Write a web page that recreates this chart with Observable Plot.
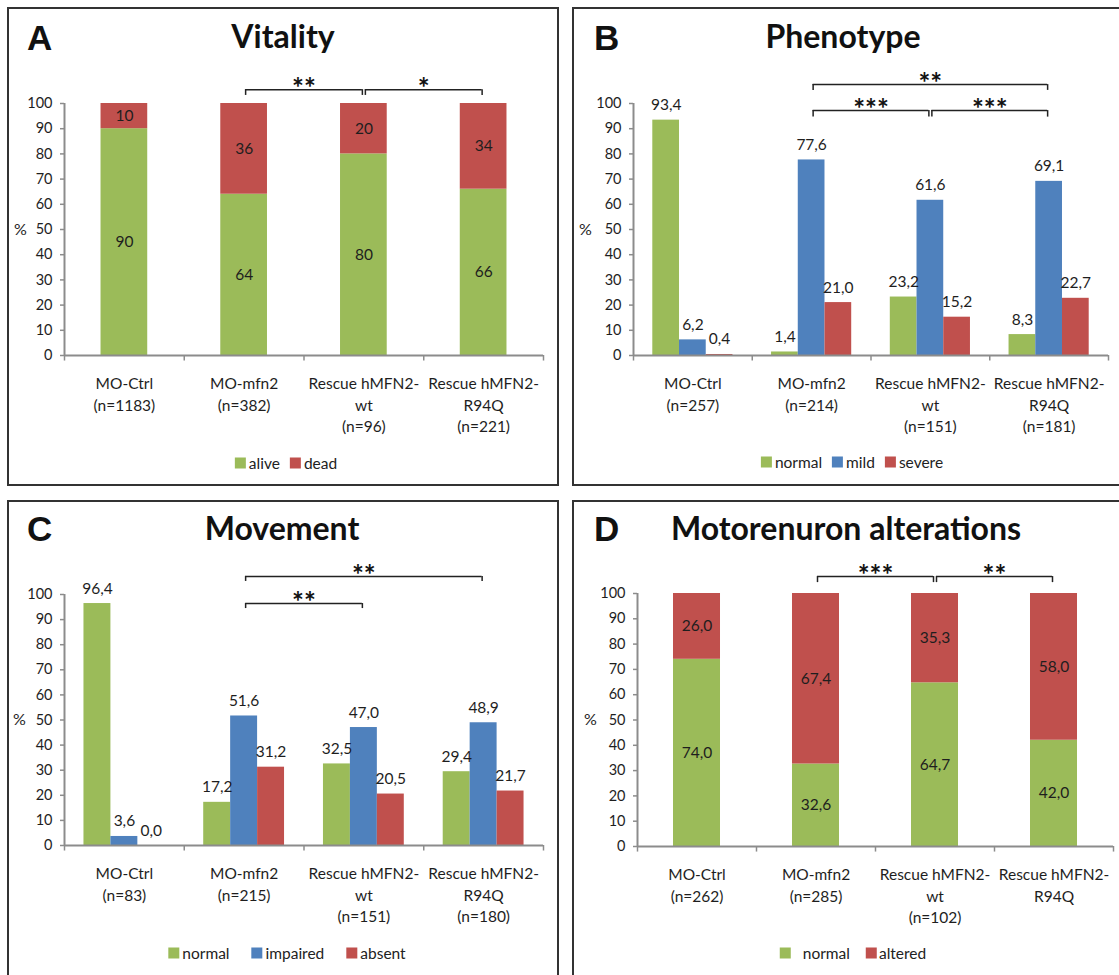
<!DOCTYPE html>
<html><head><meta charset="utf-8">
<script src="https://cdn.jsdelivr.net/npm/d3@7"></script>
<script src="https://cdn.jsdelivr.net/npm/@observablehq/plot@0.6"></script>
<style>
body{margin:0;background:#fff;}
#root{position:relative;width:1119px;height:975px;overflow:hidden;font-family:Lato,"Open Sans",sans-serif;color:#1e1e1e;background:#fff;}
.panel{position:absolute;border:2.5px solid #333;box-sizing:border-box;}
.letter{position:absolute;font-family:"Liberation Sans",Arial,sans-serif;font-weight:bold;font-size:35px;line-height:35px;color:#111;white-space:nowrap;}
.title{position:absolute;width:600px;text-align:center;font-weight:bold;font-size:32px;line-height:32px;color:#111;white-space:nowrap;}
.legend{position:absolute;display:flex;align-items:center;font-size:15.5px;line-height:15px;white-space:nowrap;transform:translate(-50%,-50%);color:#222;}
.sw{display:inline-block;width:11px;height:11px;}
.plot{position:absolute;}
</style></head>
<body><div id="root"></div>
<script>
// ---------- data ----------
const categoryLabels = ["MO-Ctrl", "MO-mfn2", "Rescue hMFN2-\nwt", "Rescue hMFN2-\nR94Q"];
const yTicks = [0, 10, 20, 30, 40, 50, 60, 70, 80, 90, 100];

const vitalityN = [1183, 382, 96, 221];
const vitalitySeries = ["alive", "dead"];
const vitalityAlive = [90, 64, 80, 66];
const vitalityDead = [10, 36, 20, 34];
const vitalityBrackets = [
  {from: 1, to: 2, label: "**", tier: 0},
  {from: 2, to: 3, label: "*", tier: 0}
];

const phenotypeN = [257, 214, 151, 181];
const phenotypeSeries = ["normal", "mild", "severe"];
const phenotypeNormal = [93.4, 1.4, 23.2, 8.3];
const phenotypeMild = [6.2, 77.6, 61.6, 69.1];
const phenotypeSevere = [0.4, 21.0, 15.2, 22.7];
const phenotypeBrackets = [
  {from: 1, to: 3, label: "**", tier: 1},
  {from: 1, to: 2, label: "***", tier: 0},
  {from: 2, to: 3, label: "***", tier: 0}
];

const movementN = [83, 215, 151, 180];
const movementSeries = ["normal", "impaired", "absent"];
const movementNormal = [96.4, 17.2, 32.5, 29.4];
const movementImpaired = [3.6, 51.6, 47.0, 48.9];
const movementAbsent = [0.0, 31.2, 20.5, 21.7];
const movementBrackets = [
  {from: 1, to: 3, label: "**", tier: 1},
  {from: 1, to: 2, label: "**", tier: 0}
];

const motoN = [262, 285, 102, null];
const motoSeries = ["normal", "altered"];
const motoNormal = [74.0, 32.6, 64.7, 42.0];
const motoAltered = [26.0, 67.4, 35.3, 58.0];
const motoBrackets = [
  {from: 1, to: 2, label: "***", tier: 0},
  {from: 2, to: 3, label: "**", tier: 0}
];

// ---------- style ----------
const GREEN = "#9BBB59", BLUE = "#4F81BD", RED = "#C0504D";
const AXIS = "#8c8c8c", INK = "#1e1e1e";
const root = document.getElementById("root");
const comma = v => v.toFixed(1).replace(".", ",");

function el(cls, css, html) {
  const d = document.createElement("div");
  d.className = cls; Object.assign(d.style, css); if (html != null) d.innerHTML = html;
  root.appendChild(d); return d;
}

function panel(cfg) {
  el("panel", {left: cfg.box[0] + "px", top: cfg.box[1] + "px", width: cfg.box[2] + "px", height: cfg.box[3] + "px"});
  el("letter", {left: cfg.letterX + "px", top: (cfg.letterBase - 29.6) + "px"}, cfg.letter);
  el("title", {left: (cfg.titleCx - 300) + "px", top: (cfg.titleBase - 28.4) + "px"}, cfg.title);
  const lg = el("legend", {left: cfg.legendCx + "px", top: cfg.legendCy + "px"});
  cfg.series.forEach((s, k) => {
    const item = document.createElement("span");
    item.style.display = "inline-flex"; item.style.alignItems = "center";
    if (k > 0) item.style.marginLeft = cfg.legendGap + "px";
    item.innerHTML = `<span class="sw" style="background:${cfg.colors[k]}"></span><span style="margin-left:${(cfg.swGap && cfg.swGap[k] != null) ? cfg.swGap[k] : 3}px">${s}</span>`;
    lg.appendChild(item);
  });
}

function axes(cfg, n) {
  const boundaries = d3.range(categoryLabels.length + 1).map(i => i - 0.5);
  const labels = categoryLabels.map((c, i) => n[i] != null ? `${c}\n(n=${n[i]})` : c);
  return [
    Plot.ruleX([-0.5], {y1: 0, y2: 100, stroke: AXIS, strokeWidth: 2}),
    Plot.ruleY([0], {stroke: AXIS, strokeWidth: 2}),
    Plot.ruleX(boundaries, {y1: 0, y2: -2.2, stroke: AXIS, strokeWidth: 1.5}),
    Plot.axisY({ticks: yTicks, tickSize: 4, tickPadding: 8, stroke: AXIS, strokeWidth: 1.5, fill: INK, fontSize: 14.5, tickFormat: d => String(d), label: null}),
    Plot.text(["%"], {x: -0.5, y: 50, dx: cfg.pctDx, fontSize: 16, fill: INK, textAnchor: "middle"}),
    Plot.text(labels, {x: (d, i) => i, y: 0, text: d => d, lineAnchor: "top", lineHeight: 1.4, dy: 18, fontSize: 15.5, fill: INK})
  ];
}

function bracketMarks(cfg, brackets) {
  const line = d => cfg.tiers[d.tier][0], tip = d => cfg.tiers[d.tier][1];
  return [
    Plot.ruleY(brackets, {y: line, x1: "from", x2: "to", insetLeft: 1.5, insetRight: 1.5, stroke: "#222", strokeWidth: 1.5}),
    Plot.ruleX(brackets, {x: "from", y1: tip, y2: line, dx: 1.5, stroke: "#222", strokeWidth: 1.5}),
    Plot.ruleX(brackets, {x: "to", y1: tip, y2: line, dx: -1.5, stroke: "#222", strokeWidth: 1.5}),
    Plot.text(brackets, {x: d => (d.from + d.to) / 2, y: line, text: "label", lineAnchor: "bottom", dy: 8.5, fontSize: 28, fontWeight: "bold", fill: "#111"})
  ];
}

function plotFrame(cfg, marks) {
  const [sx, sy, sw, sh] = cfg.svg;
  const chart = Plot.plot({
    width: sw, height: sh,
    marginLeft: cfg.axisX - sx, marginRight: sx + sw - cfg.axisEnd,
    marginTop: cfg.y100 - sy, marginBottom: sy + sh - cfg.y0,
    x: {domain: [-0.5, 3.5], axis: null},
    y: {domain: [0, 100], axis: null},
    color: {domain: cfg.series, range: cfg.colors},
    style: {fontFamily: "Lato, 'Open Sans', sans-serif", fontSize: "15px", color: INK, background: "transparent", overflow: "visible"},
    marks
  });
  chart.classList.add("plot");
  chart.style.left = sx + "px"; chart.style.top = sy + "px";
  root.appendChild(chart);
}

function stacked(cfg, n, seriesValues, brackets, fmt) {
  panel(cfg);
  const bw = cfg.barWidth;
  const rows = [];
  categoryLabels.forEach((c, i) => {
    let acc = 0;
    cfg.series.forEach((s, k) => {
      const v = seriesValues[k][i];
      rows.push({i, series: s, y1: acc, y2: acc + v, v});
      acc += v;
    });
  });
  plotFrame(cfg, [
    Plot.rectY(rows, {x1: d => d.i - bw / 2, x2: d => d.i + bw / 2, y1: "y1", y2: "y2", fill: "series"}),
    Plot.text(rows, {x: "i", y: d => (d.y1 + d.y2) / 2, text: d => fmt(d.v), fontSize: 15.5, fill: INK}),
    ...axes(cfg, n),
    ...bracketMarks(cfg, brackets)
  ]);
}

function grouped(cfg, n, seriesValues, brackets) {
  panel(cfg);
  const G = cfg.groupWidth, m = cfg.series.length, w = G / m;
  const rows = [];
  categoryLabels.forEach((c, i) => {
    cfg.series.forEach((s, k) => {
      const x1 = i - G / 2 + k * w;
      rows.push({i, series: s, x1, x2: x1 + w, v: seriesValues[k][i]});
    });
  });
  plotFrame(cfg, [
    Plot.rectY(rows, {x1: "x1", x2: "x2", y1: 0, y2: "v", fill: "series"}),
    Plot.text(rows, {x: d => (d.x1 + d.x2) / 2, y: "v", text: d => comma(d.v), lineAnchor: "bottom", dy: -10, fontSize: 15.5, fill: INK}),
    ...axes(cfg, n),
    ...bracketMarks(cfg, brackets)
  ]);
}

// ---------- layout ----------
stacked({
  box: [7, 7, 552, 479], letter: "A", letterX: 27, letterBase: 50,
  title: "Vitality", titleCx: 283, titleBase: 48,
  svg: [10, 60, 547, 400], axisX: 64, axisEnd: 543, y100: 103, y0: 355,
  series: vitalitySeries, colors: [GREEN, RED], barWidth: 0.39,
  legendCx: 286, legendCy: 463, legendGap: 10,
  tiers: [[105.5, 103.2]], pctDx: -44
}, vitalityN, [vitalityAlive, vitalityDead], vitalityBrackets, v => String(v));

grouped({
  box: [572, 7, 560, 479], letter: "B", letterX: 594, letterBase: 50,
  title: "Phenotype", titleCx: 843, titleBase: 48,
  svg: [575, 60, 544, 400], axisX: 633, axisEnd: 1108, y100: 103, y0: 355,
  series: phenotypeSeries, colors: [GREEN, BLUE, RED], groupWidth: 0.675,
  legendCx: 852, legendCy: 462, legendGap: 10,
  tiers: [[97.2, 94.6], [107.5, 105.2]], pctDx: -48
}, phenotypeN, [phenotypeNormal, phenotypeMild, phenotypeSevere], phenotypeBrackets);

grouped({
  box: [7, 500, 552, 490], letter: "C", letterX: 27, letterBase: 541,
  title: "Movement", titleCx: 282, titleBase: 540,
  svg: [10, 550, 547, 400], axisX: 64, axisEnd: 543, y100: 594, y0: 845,
  series: movementSeries, colors: [GREEN, BLUE, RED], groupWidth: 0.675,
  legendCx: 287, legendCy: 953, legendGap: 22,
  tiers: [[96.4, 94.4], [107.2, 105.2]], pctDx: -45
}, movementN, [movementNormal, movementImpaired, movementAbsent], movementBrackets);

stacked({
  box: [572, 500, 560, 490], letter: "D", letterX: 594, letterBase: 541,
  title: "Motorenuron alterations", titleCx: 846, titleBase: 540,
  svg: [575, 550, 544, 400], axisX: 637, axisEnd: 1113, y100: 593, y0: 846,
  series: motoSeries, colors: [GREEN, RED], barWidth: 0.395,
  legendCx: 853, legendCy: 953, legendGap: 16, swGap: [12, 2],
  tiers: [[106.7, 104.3]], pctDx: -47
}, motoN, [motoNormal, motoAltered], motoBrackets, comma);
</script>
</body></html>
